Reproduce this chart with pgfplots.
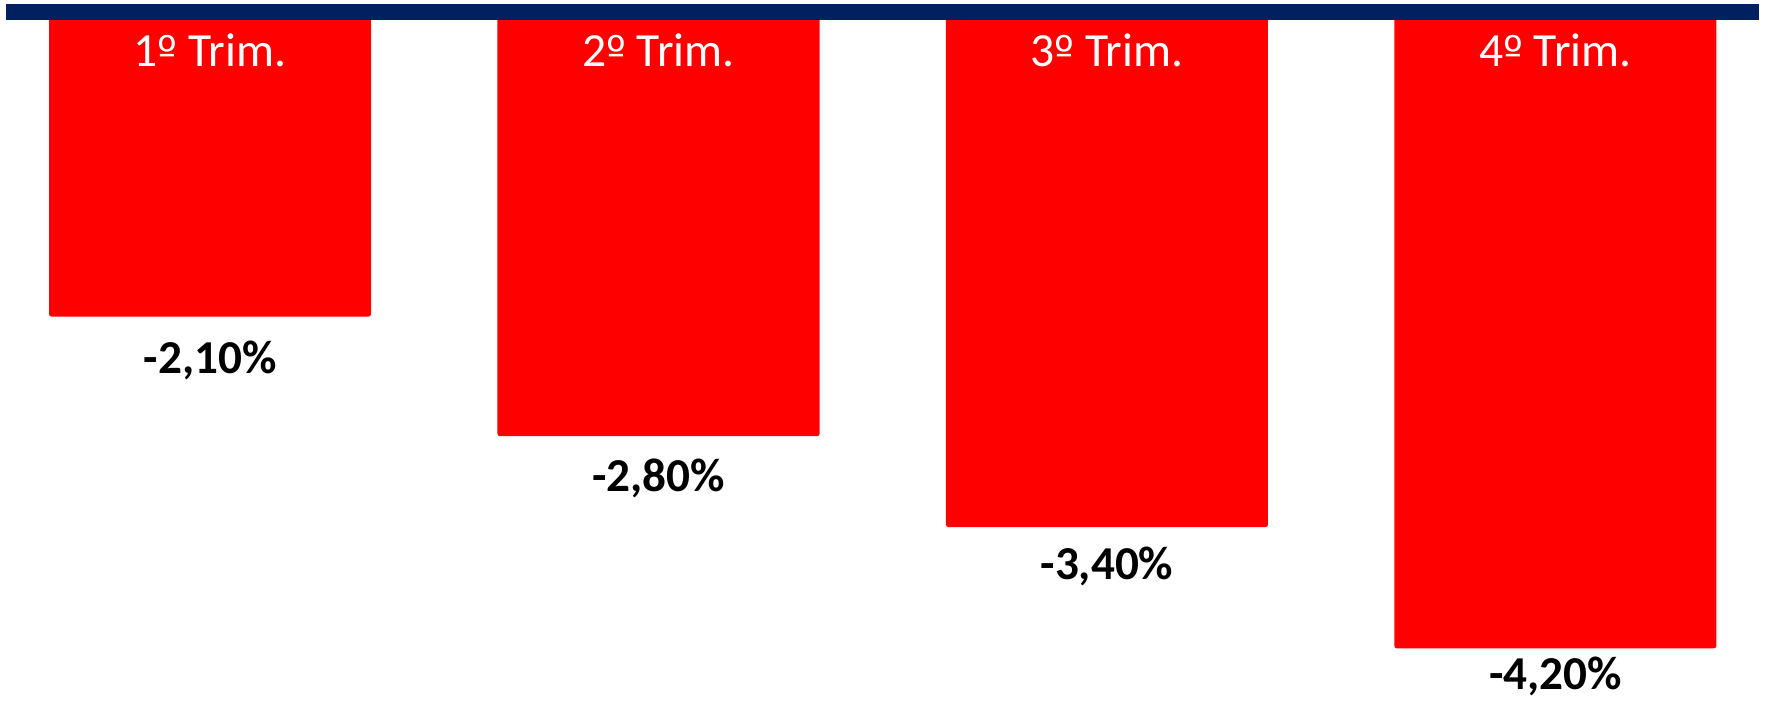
\documentclass[border=0pt]{standalone}
\usepackage{pgfplots}
\pgfplotsset{compat=1.18}
\usepackage{pgfplotstable}
\usepackage{fontspec}
\setmainfont{Carlito}
\newfontfamily\ordfont{DejaVu Sans}
\newcommand{\ord}{{\ordfont\fontsize{10.5pt}{12pt}\selectfont º}}
\definecolor{barred}{HTML}{FF0000}
\definecolor{navyline}{HTML}{002060}

\pgfplotstableread{
x y
0 -2.01
1 -2.80
2 -3.40
3 -4.20
}\bars

\begin{document}
\begin{tikzpicture}
\useasboundingbox (-1.5pt,0pt) rectangle (440.25pt,175.75pt);
\begin{axis}[
  at={(0pt,0pt)}, anchor=south west,
  scale only axis,
  width=438.25pt, height=172.75pt,
  xmin=-0.455, xmax=3.454,
  ymin=-4.561, ymax=0,
  axis x line=top,
  hide y axis,
  x axis line style={-, line width=4pt, draw=navyline},
  xtick=\empty, ytick=\empty,
  clip=false,
  axis on top,
]
\addplot[ybar, bar width=80.5pt, bar shift=0pt, fill=barred, draw=none, rounded corners=0.6pt] table[x=x, y=y] {\bars};

\addplot[draw=none, nodes near coords, point meta=explicit symbolic,
  every node near coord/.append style={anchor=base, inner sep=0pt, text=white, font=\fontsize{11.9pt}{14pt}\selectfont}]
  coordinates {(0,-0.363) [1\ord{} Trim.] (1,-0.363) [2\ord{} Trim.] (2,-0.363) [3\ord{} Trim.] (3,-0.363) [4\ord{} Trim.]};

\addplot[draw=none, nodes near coords, point meta=explicit symbolic,
  every node near coord/.append style={anchor=base, inner sep=0pt, text=black, font=\fontsize{11.8pt}{14pt}\selectfont\bfseries}]
  coordinates {(0,-2.383) [{-2,10\%}] (1,-3.166) [{-2,80\%}] (2,-3.749) [{-3,40\%}] (3,-4.475) [{-4,20\%}]};
\end{axis}
\end{tikzpicture}
\end{document}
